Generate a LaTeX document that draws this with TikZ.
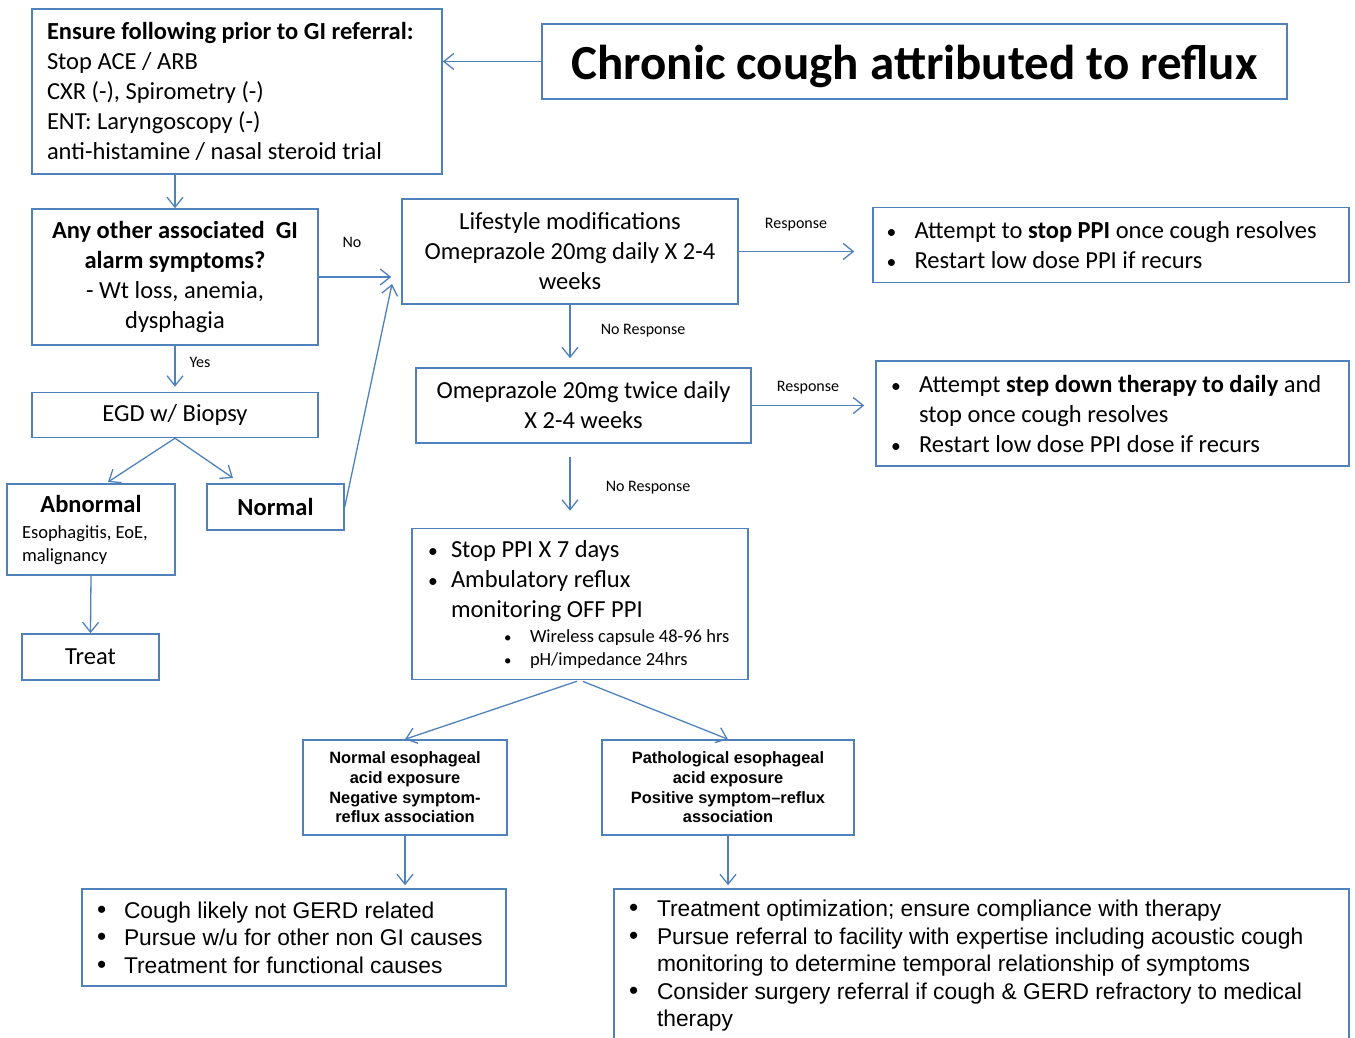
\documentclass[tikz,border=0pt]{standalone}
\usepackage{fontspec}
\setmainfont{Carlito}
\newfontfamily\arialfont{Liberation Sans}
\usepackage{tikz}
\usetikzlibrary{arrows.meta}
\definecolor{boxblue}{RGB}{79,129,189}
\tikzset{
  box/.style={draw=boxblue, line width=1.5pt, inner sep=0pt,
    font=\fontsize{24.5}{30}\selectfont},
  link/.style={draw=boxblue, line width=1.3pt,
    -{Straight Barb[length=10pt,width=16pt]}},
  lbl/.style={inner sep=0pt, font=\fontsize{16}{19}\selectfont}
}
\newcommand{\bul}[1][28pt]{\makebox[#1][l]{\scalebox{0.8}{\textbullet}}}
\newcommand{\abul}[1][28pt]{\makebox[#1][l]{\scalebox{1.15}{\textbullet}}}
\newcommand{\cont}[1][28pt]{\hspace*{#1}}

\begin{document}
\begin{tikzpicture}[x=1pt, y=-1pt]

    \useasboundingbox (0,0) rectangle (1355,1038);

    % Title
    \node[box, minimum width=745, minimum height=75, text height=36.5, text depth=0,
      font=\fontsize{49}{55}\selectfont\bfseries] (title) at (914.5,61.5)
      {Chronic cough attributed to reflux};

    % Box: checks before referral
    \node[box, minimum width=410, minimum height=165, text width=380, align=flush left] (ensure) at (237,91.5)
      {\textbf{Ensure following prior to GI referral:}\\
       Stop ACE / ARB\\
       CXR (-), Spirometry (-)\\
       ENT: Laryngoscopy (-)\\
       anti-histamine / nasal steroid trial};

    % Box: alarm symptoms question
    \node[box, minimum width=286, minimum height=136, align=center] (alarm) at (175,277)
      {\textbf{Any other associated\ \ GI}\\
       \textbf{alarm symptoms?}\\
       - Wt loss, anemia,\\
       dysphagia};

    % Column: PPI trial
    \node[box, minimum width=336, minimum height=105, align=center] (lifestyle) at (570,251.5)
      {Lifestyle modifications\\
       Omeprazole 20mg daily X 2-4\\
       weeks};
    \node[box, minimum width=335, minimum height=75, align=center] (bid) at (583.5,405.5)
      {Omeprazole 20mg twice daily\\
       X 2-4 weeks};
    \node[box, minimum width=336, minimum height=151, text width=304, align=flush left] (offppi) at (580,604)
      {\bul[23pt]Stop PPI X 7 days\\
       \bul[23pt]Ambulatory reflux\\
       \cont[23pt]monitoring OFF PPI\\[-5pt]
       \mbox{\fontsize{18.5}{23}\selectfont\hspace*{76pt}\bul[26pt]Wireless capsule 48-96 hrs}\\[-7pt]
       \mbox{\fontsize{18.5}{23}\selectfont\hspace*{76pt}\bul[26pt]pH/impedance 24hrs}};

    % Boxes: response
    \node[box, minimum width=476, minimum height=75, text width=449, align=flush left] (stopppi) at (1111,245)
      {\bul Attempt to \textbf{stop PPI} once cough resolves\\
       \bul Restart low dose PPI if recurs};
    \node[box, minimum width=473, minimum height=105, text width=443, align=flush left] (stepdown) at (1112.5,413.5)
      {\bul Attempt \textbf{step down therapy to daily} and\\
       \cont stop once cough resolves\\
       \bul Restart low dose PPI dose if recurs};

    % Column: endoscopy
    \node[box, minimum width=286, minimum height=45] (egd) at (175,415) {EGD w/ Biopsy};
    \node[box, minimum width=168, minimum height=91, text width=138, align=flush left] (abnormal) at (91,529.5)
      {{\centering\bfseries Abnormal\par}\vspace{3pt}
       {\fontsize{18.5}{23}\selectfont Esophagitis, EoE,\\ malignancy\par}};
    \node[box, minimum width=137, minimum height=46, font=\fontsize{24.5}{30}\selectfont\bfseries] (normal) at (275.5,507) {Normal};
    \node[box, minimum width=137, minimum height=46] (treat) at (90.5,657) {Treat};

    % Boxes: reflux monitoring result
    \node[box, minimum width=204, minimum height=95, align=center,
      font=\arialfont\bfseries\fontsize{16.4}{19.7}\selectfont] (normacid) at (405,787.5)
      {Normal esophageal\\ acid exposure\\ Negative symptom-\\ reflux association};
    \node[box, minimum width=252, minimum height=95, align=center,
      font=\arialfont\bfseries\fontsize{16.4}{19.7}\selectfont] (pathacid) at (728,787.5)
      {Pathological esophageal\\ acid exposure\\ Positive symptom–reflux\\ association};

    % Boxes: what to do next
    \node[box, minimum width=424, minimum height=97, text width=394, align=flush left,
      font=\arialfont\fontsize{22.8}{27.5}\selectfont] (notgerd) at (294,937.5)
      {\abul[27pt]Cough likely not GERD related\\
       \abul[27pt]Pursue w/u for other non GI causes\\
       \abul[27pt]Treatment for functional causes};
    \node[box, minimum width=735, minimum height=154, text width=705, align=flush left,
      font=\arialfont\fontsize{22.8}{27.5}\selectfont] (optimize) at (981.5,966)
      {\abul Treatment optimization; ensure compliance with therapy\\
       \abul Pursue referral to facility with expertise including acoustic cough\\
       \cont monitoring to determine temporal relationship of symptoms\\
       \abul Consider surgery referral if cough \& GERD refractory to medical\\
       \cont therapy};

    % Free ends of the slanted arrows
    \coordinate (toLife) at (392,284);
    \coordinate (toAbn) at (108,482);
    \coordinate (toNorm) at (233,478);

    % Arrows
    \draw[link] (title.west) -- (title.west -| ensure.east);
    \draw[link] (alarm.north |- ensure.south) -- (alarm.north);
    \draw[link, shorten >=10pt] (alarm.east) -- (alarm.east -| lifestyle.west);
    \draw[link, shorten >=5pt] (alarm.south) -- (egd.north);
    \draw[link] (egd.south) -- (toAbn);
    \draw[link] (egd.south) -- (toNorm);
    \draw[link] (abnormal.south) -- (treat.north);
    \draw[link] (normal.east) -- (toLife);
    \draw[link, shorten >=18pt] (lifestyle.east) -- (lifestyle.east -| stopppi.west);
    \draw[link, shorten >=9pt] (lifestyle.south) -- (lifestyle.south |- bid.north);
    \draw[link, shorten >=11pt] (bid.east) -- (bid.east -| stepdown.west);
    \draw[link, shorten <=13pt, shorten >=17pt] (bid.south -| lifestyle.south) -- (offppi.north -| lifestyle.south);
    \draw[link, shorten <=3pt] (offppi.south) -- (normacid.north);
    \draw[link, shorten <=3pt] (offppi.south) -- (pathacid.north);
    \draw[link, shorten >=3pt] (normacid.south) -- (normacid.south |- notgerd.north);
    \draw[link, shorten >=3pt] (pathacid.south) -- (pathacid.south |- optimize.north);

    % Labels: arrows
    \node[lbl] (lblNo) at (352,242) {No};
    \node[lbl] (lblYes) at (200,362) {Yes};
    \node[lbl] (lblResp1) at (796,225) {Response};
    \node[lbl] (lblResp2) at (808,388) {Response};
    \node[lbl] (lblNoResp1) at (643,331) {No Response};
    \node[lbl] (lblNoResp2) at (648,488) {No Response};

\end{tikzpicture}
\end{document}
